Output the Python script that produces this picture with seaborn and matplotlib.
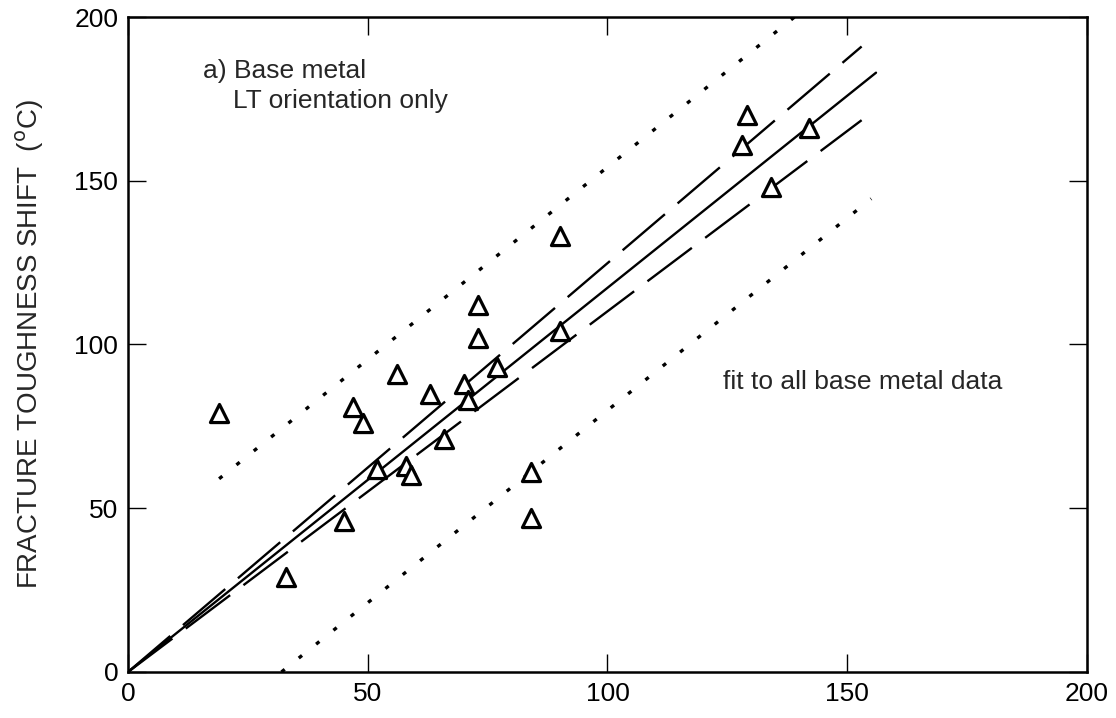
import matplotlib
matplotlib.use("Agg")
import matplotlib.pyplot as plt
import seaborn as sns
import pandas as pd

# Measured shifts (deg C): Charpy-based prediction vs. fracture toughness shift
x_shift = [19, 33, 45, 47, 49, 52, 56, 58, 59, 63, 66, 70, 71, 73, 73, 77,
           84, 84, 90, 90, 128, 129, 134, 142]
y_shift = [79, 29, 46, 81, 76, 62, 91, 63, 60, 85, 71, 88, 83, 102, 112, 93,
           61, 47, 104, 133, 161, 170, 148, 166]

# Fit line through the origin and its bounds (end points)
fit_x = [0, 156]
fit_y = [0, 183]
upper_band_x = [0, 153]
upper_band_y = [0, 191]
lower_band_x = [0, 153]
lower_band_y = [0, 168.5]
upper_scatter_x = [19, 139]
upper_scatter_y = [59, 200]
lower_scatter_x = [32, 155]
lower_scatter_y = [0, 144.5]

x_ticks = [0, 50, 100, 150, 200]
y_ticks = [0, 50, 100, 150, 200]

sns.set_style("ticks")
plt.rcParams["font.family"] = ["Liberation Sans", "DejaVu Sans"]
plt.rcParams["lines.scale_dashes"] = False

fig = plt.figure(figsize=(11.16, 7.18), dpi=100)
ax = fig.add_axes([0.1147, 0.0641, 0.8593, 0.9122])

line_sets = [
    (fit_x, fit_y, "-"),
    (upper_band_x, upper_band_y, (0, (40, 12))),
    (lower_band_x, lower_band_y, (0, (40, 12))),
]
for lx, ly, ls in line_sets:
    sns.lineplot(x=lx, y=ly, ax=ax, color="black", linewidth=1.7,
                 linestyle=ls, sort=False, estimator=None)

for lx, ly in [(upper_scatter_x, upper_scatter_y), (lower_scatter_x, lower_scatter_y)]:
    sns.lineplot(x=lx, y=ly, ax=ax, color="black", linewidth=2.4,
                 linestyle=(0, (3, 13)), sort=False, estimator=None)

pts = pd.DataFrame({"x": x_shift, "y": y_shift})
sns.scatterplot(data=pts, x="x", y="y", ax=ax, marker="^", s=170,
                facecolor="white", edgecolor="black", linewidth=2.3, zorder=5)

ax.set_xlim(0, 200)
ax.set_ylim(0, 200)
ax.set_xticks(x_ticks)
ax.set_yticks(y_ticks)
ax.tick_params(direction="in", length=13, width=1.0, top=True, right=True,
               labelsize=19, pad=7, colors="black")
for sp in ax.spines.values():
    sp.set_linewidth(1.8)
    sp.set_color("black")

ax.set_xlabel("")
ax.set_ylabel("FRACTURE TOUGHNESS SHIFT  ($^{\\rm o}$C)", fontsize=20)
ax.yaxis.set_label_coords(-0.085, 0.5)

ax.text(15.6, 183.5, "a) Base metal", fontsize=19, va="center", ha="left")
ax.text(21.9, 174.3, "LT orientation only", fontsize=19, va="center", ha="left")
ax.text(124, 88.4, "fit to all base metal data", fontsize=19, va="center", ha="left")

fig.savefig("out.png", dpi=100)
